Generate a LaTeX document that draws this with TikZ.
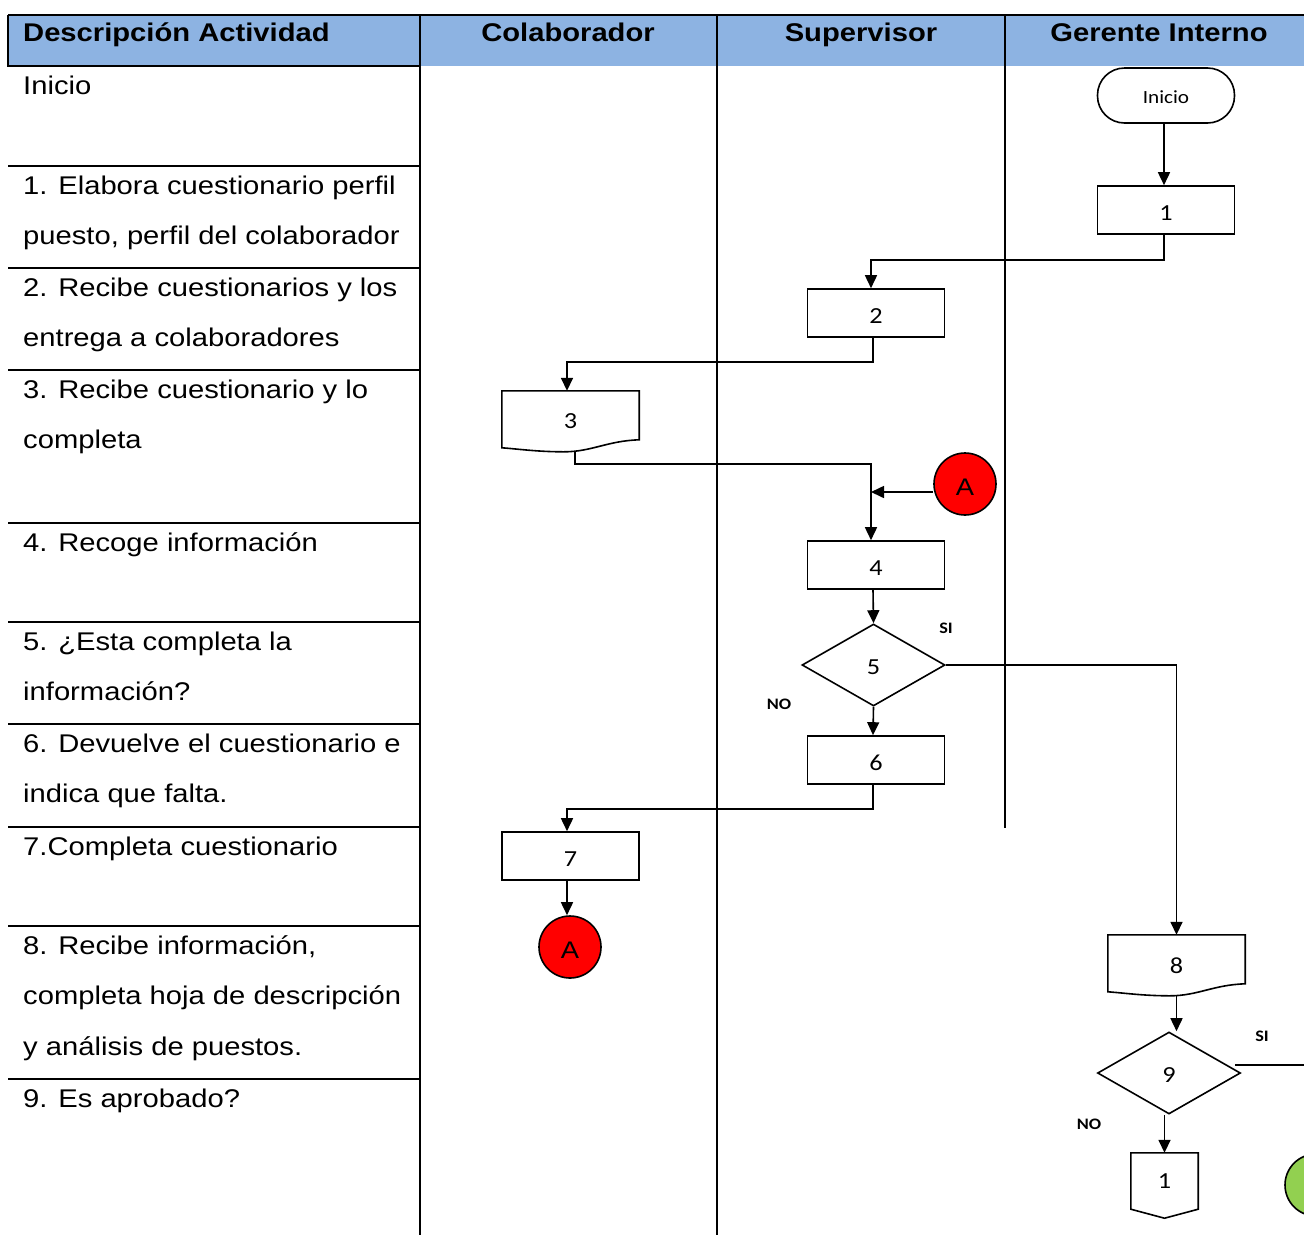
\documentclass[tikz,border=0pt]{standalone}
\usepackage{fontspec}
\setmainfont{Liberation Sans}[FakeStretch=1.14]
\newfontfamily\flowfont{Carlito}[FakeStretch=1.14]
\usetikzlibrary{arrows.meta,calc,shapes.geometric}

\definecolor{headblue}{HTML}{8DB3E2}
\definecolor{connred}{HTML}{FF0000}
\definecolor{conngreen}{HTML}{92D050}

% document symbol: flat top, wavy bottom
\newcommand\docoutline[1]{%
  \draw[flowline] (#1.north west) -- (#1.north east)
    -- ($(#1.north east)+(0,49)$)
    .. controls ($(#1.north east)+(-32,50)$) and ($(#1.north west)+(90,61)$) .. ($(#1.north west)+(62,61)$)
    .. controls ($(#1.north west)+(35,61)$) and ($(#1.north west)+(15,58)$) .. ($(#1.north west)+(0,57)$)
    -- cycle;}

% off-page connector: pentagon pointing down
\newcommand\offpageoutline[1]{%
  \draw[flowline] (#1.north west) -- (#1.north east) -- (#1.south east)
    -- ($(#1.south)+(0,9)$) -- (#1.south west) -- cycle;}

\begin{document}
\begin{tikzpicture}[x=1pt,y=-1pt,
  gridline/.style={line width=2.2pt},
  flowline/.style={line width=1.6pt},
  arr/.style={flowline,-{Triangle[length=13pt,width=12pt]}},
  headtxt/.style={font=\bfseries\fontsize{25.6}{30}\selectfont,anchor=base,inner sep=0pt},
  % multi-line rows are anchored on the baseline of their last line
  rowtxt/.style={font=\fontsize{25.6}{50.5}\selectfont,anchor=base west,align=left,inner sep=0pt},
  flowtxt/.style={font=\flowfont\fontsize{23}{26}\selectfont},
  procbox/.style={draw,flowline,minimum width=137pt,minimum height=48pt,inner sep=0pt,
    flowtxt,text height=20.5pt,text depth=0pt},
  docbox/.style={minimum width=137pt,minimum height=61pt,inner sep=0pt,flowtxt},
  decision/.style={diamond,draw,flowline,minimum width=143pt,minimum height=82pt,inner sep=0pt,
    flowtxt,text height=18.5pt,text depth=0pt},
  termbox/.style={draw,flowline,rounded corners=27pt,minimum width=137pt,minimum height=55pt,
    inner sep=0pt,font=\flowfont\fontsize{18.6}{22}\selectfont,text height=16pt,text depth=0pt},
  offpage/.style={minimum width=67pt,minimum height=56pt,inner sep=0pt,flowtxt},
  connA/.style={circle,draw,flowline,fill=connred,minimum size=62pt,inner sep=0pt,
    font=\fontsize{24}{28}\selectfont,text height=23pt,text depth=0pt},
  connB/.style={circle,draw,flowline,fill=conngreen,minimum size=62pt,inner sep=0pt},
  branch/.style={font=\flowfont\bfseries\fontsize{16}{18}\selectfont,inner sep=0pt}
]
\useasboundingbox (0,0) rectangle (1304,1235);

% ---------- table ----------
\fill[headblue] (8,15) rectangle (1304,66);
\draw[gridline] (8,15) -- (1304,15);
\draw[gridline] (8,15) -- (8,66) -- (420,66);
\draw[gridline] (420,15) -- (420,1235);
\draw[gridline] (717,15) -- (717,1235);
\draw[gridline] (1005,15) -- (1005,828);
\foreach \y in {166,268,370,523,622,724,827,926,1079}
  \draw[gridline] (8,\y) -- (420,\y);

\node[headtxt,anchor=base west] (hd) at (23,41) {Descripción Actividad};
\node[headtxt] (hc) at (568,41) {Colaborador};
\node[headtxt] (hs) at (861,41) {Supervisor};
\node[headtxt] (hg) at (1159,41) {Gerente Interno};

\node[rowtxt] (r0) at (23,94) {Inicio};
\node[rowtxt] (r1) at (23,244.5) {1. Elabora cuestionario perfil\\puesto, perfil del colaborador};
\node[rowtxt] (r2) at (23,346.5) {2. Recibe cuestionarios y los\\entrega a colaboradores};
\node[rowtxt] (r3) at (23,448.5) {3. Recibe cuestionario y lo\\completa};
\node[rowtxt] (r4) at (23,551) {4. Recoge información};
\node[rowtxt] (r5) at (23,700.5) {5. ¿Esta completa la\\información?};
\node[rowtxt] (r6) at (23,802.5) {6. Devuelve el cuestionario e\\indica que falta.};
\node[rowtxt] (r7) at (23,855) {7.Completa cuestionario};
\node[rowtxt] (r8) at (23,1055) {8. Recibe información,\\completa hoja de descripción\\y análisis de puestos.};
\node[rowtxt] (r9) at (23,1107) {9. Es aprobado?};

% ---------- flow ----------
\node[termbox] (ini) at (1166,95.5) {Inicio};
\node[procbox] (b1) at (1166,210) {1};
\node[procbox] (b2) at (876,313) {2};
\node[docbox] (d3) at (570.5,421.5) {3};
\docoutline{d3}
\node[connA] (A1) at (965,484) {A};
\node[procbox] (b4) at (876,565) {4};
\node[decision] (g5) at (873.5,665) {5};
\node[procbox] (b6) at (876,760) {6};
\node[procbox] (b7) at (570.5,856) {7};
\node[connA] (A2) at (570,947) {A};
\node[docbox] (d8) at (1176.5,965.5) {8};
\docoutline{d8}
\node[decision] (g9) at (1169,1073) {9};
\node[offpage] (c1) at (1164.5,1181) {1};
\offpageoutline{c1}
\node[connB] (gr) at (1316,1185) {};

\node[branch] (si5) at (946,628) {SI};
\node[branch] (no5) at (779,704) {NO};
\node[branch] (si9) at (1262,1036) {SI};
\node[branch] (no9) at (1089,1124) {NO};

\coordinate (jA) at (871,492);
\coordinate (out9) at (1310,1065);

\draw[arr] ([xshift=-2pt]ini.south) -- ([xshift=-2pt]b1.north);
\draw[arr] ([xshift=-2pt]b1.south) -- ++(0,25) -| ([xshift=-5pt]b2.north);
\draw[arr] ([xshift=-3pt]b2.south) -- ++(0,24) -| ([xshift=-3.5pt]d3.north);
\draw[arr] ([xshift=4.5pt]d3.south) -- ++(0,12) -| ([xshift=-5pt]b4.north);
\draw[arr] (A1.west |- jA) -- (jA);
\draw[arr] ([xshift=-3pt]b4.south) -- (g5.north);
\draw[arr] (g5.south) -- ([xshift=-3pt]b6.north);
\draw[arr] (g5.east) -| (d8.north);
\draw[arr] ([xshift=-3pt]b6.south) -- ++(0,24) -| ([xshift=-3.5pt]b7.north);
\draw[arr] ([xshift=-3.5pt]b7.south) -- ([xshift=-3pt]A2.north);
\draw[arr] (d8.south) -- (d8.south |- g9.north);
\draw[arr] (c1.north |- g9.south) -- (c1.north);
\draw[flowline] ($(g9.east)+(-6,-8)$) -- (out9);
\end{tikzpicture}
\end{document}
